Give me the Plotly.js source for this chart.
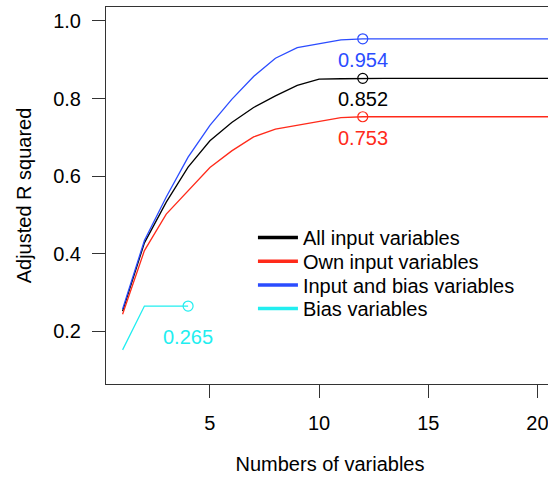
<!DOCTYPE html>
<html><head><meta charset="utf-8">
<script src="https://cdn.plot.ly/plotly-3.0.1.min.js"></script>
<style>html,body{margin:0;padding:0;overflow:hidden;background:#fff}</style>
</head><body>
<div id="chart" style="width:600px;height:478px"></div>
<script>
const nVars = [1,2,3,4,5,6,7,8,9,10,11,12,13,14,15,16,17,18,19,20,21,22];
const allInput = [0.252,0.428,0.533,0.623,0.691,0.738,0.777,0.807,0.834,0.850,0.851,0.852,0.852,0.852,0.852,0.852,0.852,0.852,0.852,0.852,0.852,0.852];
const ownInput = [0.244,0.408,0.502,0.563,0.622,0.665,0.701,0.721,0.731,0.742,0.751,0.753,0.753,0.753,0.753,0.753,0.753,0.753,0.753,0.753,0.753,0.753];
const inputBias = [0.257,0.434,0.546,0.649,0.731,0.798,0.857,0.904,0.931,0.940,0.951,0.954,0.954,0.954,0.954,0.954,0.954,0.954,0.954,0.954,0.954,0.954];
const biasVars = [0.152,0.265,0.265,0.265];
const biasX = [1,2,3,4];
const seriesNames = ["All input variables","Own input variables","Input and bias variables","Bias variables"];
const colors = ["#000000","#ff2a1a","#2b4cff","#22eef0"];
const peakX = [12,12,12,4];
const peakY = [0.852,0.753,0.954,0.265];
const peakLabels = ["0.852","0.753","0.954","0.265"];

const font = "Liberation Sans, Arial, sans-serif";
const ys = [allInput, ownInput, inputBias];
const traces = [];
ys.forEach((y,i)=>traces.push({x:nVars,y:y,mode:"lines",line:{color:colors[i],width:1.3},showlegend:false,hoverinfo:"skip"}));
traces.push({x:biasX,y:biasVars,mode:"lines",line:{color:colors[3],width:1.3},showlegend:false});
peakX.forEach((px,i)=>traces.push({x:[px],y:[peakY[i]],mode:"markers",marker:{symbol:"circle-open",size:10,color:colors[i],line:{width:1.2,color:colors[i]}},showlegend:false}));
const legendIds = ["legend","legend2","legend3","legend4"];
seriesNames.forEach((n,i)=>traces.push({x:[null],y:[null],mode:"lines",name:n,line:{color:colors[i],width:3.5},showlegend:true,legend:legendIds[i]}));

const annotations = peakX.map((px,i)=>({x:px,y:peakY[i],xref:"x",yref:"y",text:peakLabels[i],showarrow:false,
  yshift: i===3 ? -31 : -21, font:{family:font,size:20,color:colors[i]}}));

const legendYs = [0.4403,0.3775,0.3146,0.2517];
const layout = {
  width:600,height:478,
  margin:{l:106,r:46,t:7,b:94},
  paper_bgcolor:"#fff",plot_bgcolor:"#fff",
  font:{family:font,size:20,color:"#000"},
  xaxis:{range:[0.24,20.76],tickvals:[5,10,15,20],showgrid:false,zeroline:false,
    showline:true,mirror:true,linecolor:"#333",linewidth:1,ticks:"outside",ticklen:13,tickcolor:"#333",
    ticklabelstandoff:8,
    title:{text:"Numbers of variables",font:{family:font,size:20},standoff:23}},
  yaxis:{range:[0.064,1.036],tickvals:[0.2,0.4,0.6,0.8,1.0],ticktext:["0.2","0.4","0.6","0.8","1.0"],showgrid:false,zeroline:false,
    showline:true,mirror:true,linecolor:"#333",linewidth:1,ticks:"outside",ticklen:13,tickcolor:"#333",
    ticklabelstandoff:7,
    title:{text:"Adjusted R squared",font:{family:font,size:20},standoff:16}},
  annotations:annotations
};
legendIds.forEach((id,i)=>{
  layout[id] = {x:0.328,y:legendYs[i],xanchor:"left",yanchor:"top",bgcolor:"rgba(0,0,0,0)",borderwidth:0,
    font:{family:font,size:20},itemwidth:40};
});
Plotly.newPlot("chart",traces,layout,{displayModeBar:false,staticPlot:true});
</script>
</body></html>
